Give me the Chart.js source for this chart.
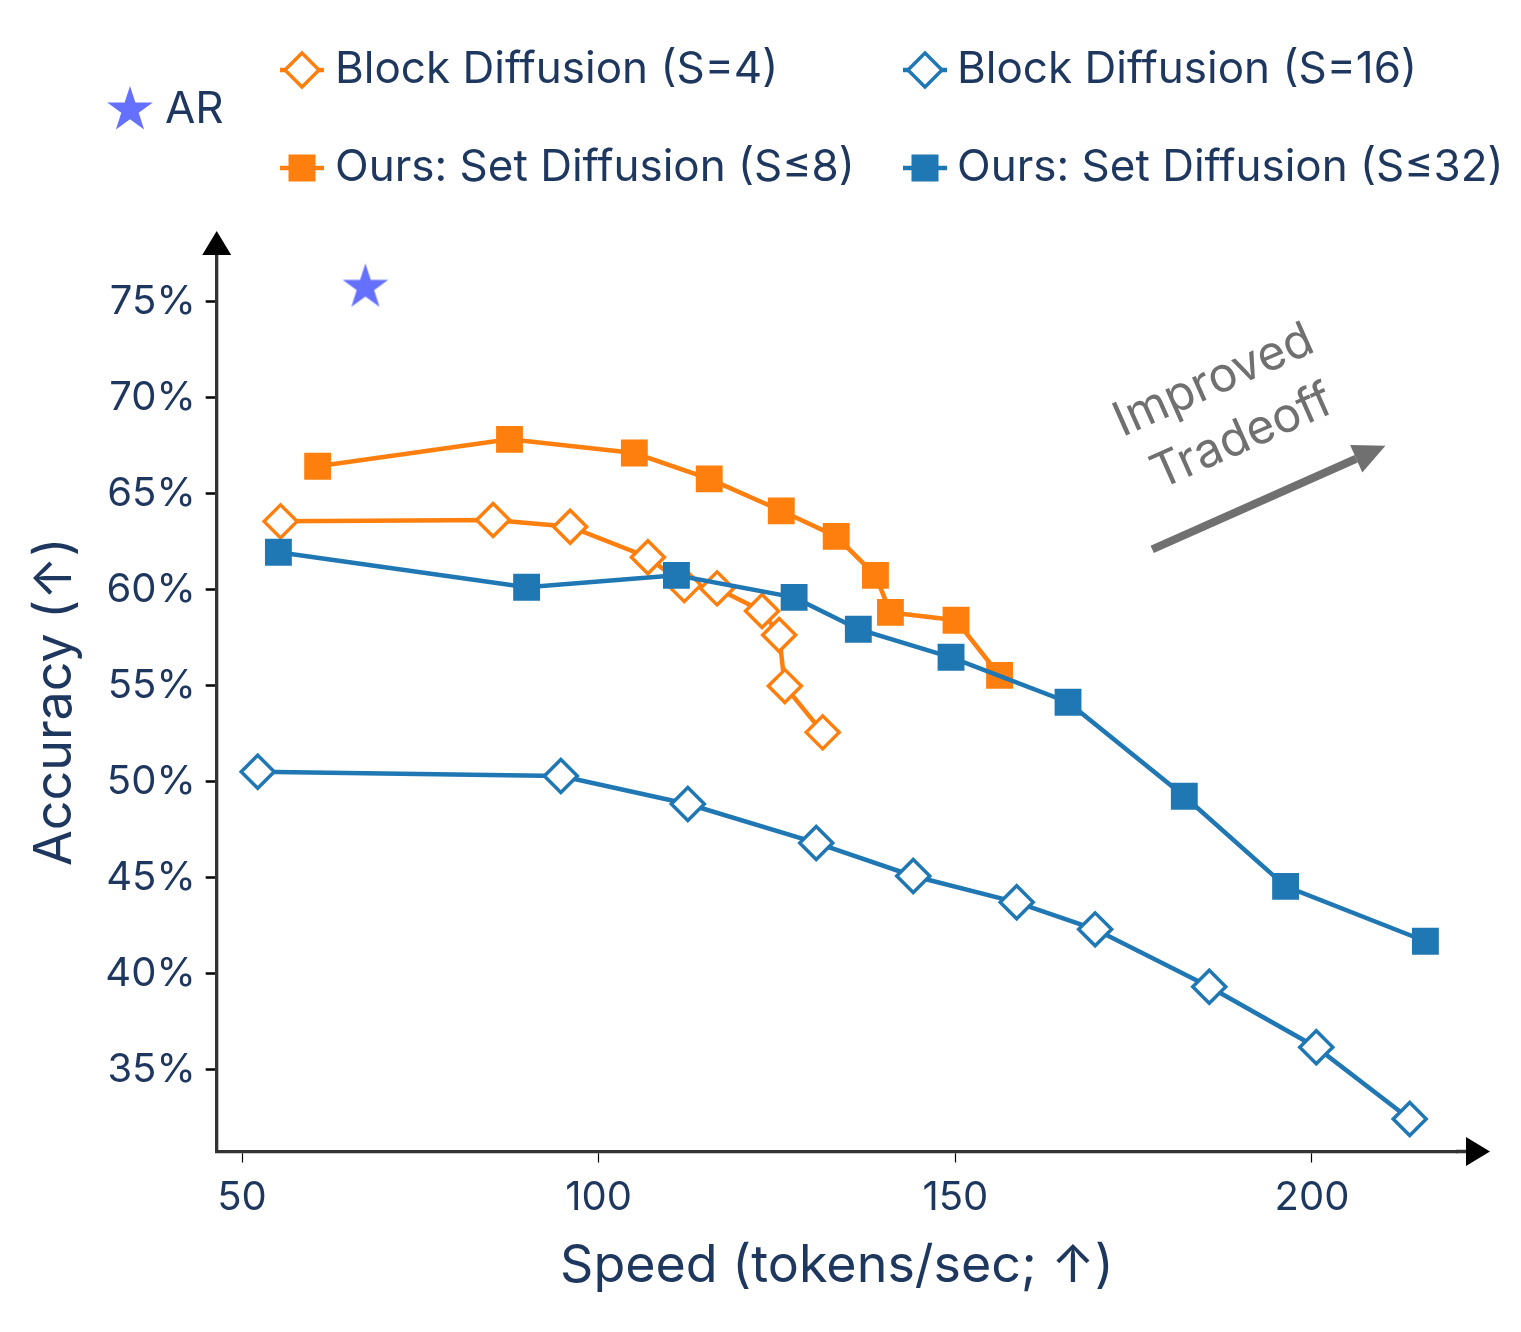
<!DOCTYPE html>
<html>
<head>
<meta charset="utf-8">
<script src="https://cdn.jsdelivr.net/npm/chart.js@4.4.1/dist/chart.umd.min.js"></script>
<style>
  html, body { margin: 0; padding: 0; background: #fff; }
  #wrap { width: 1521px; height: 1332px; }
</style>
</head>
<body>
<div id="wrap"><canvas id="chart" width="1521" height="1332"></canvas></div>
<script>
// values (speed in tokens/sec, accuracy in %)
const blockS4Speed = [55.4, 85.2, 96.0, 106.9, 112.0, 116.6, 122.9, 125.3, 126.1, 131.4];
const blockS4Acc   = [63.56, 63.63, 63.28, 61.69, 60.24, 60.07, 58.89, 57.64, 54.98, 52.57];

const setS8Speed = [60.6, 87.5, 105.0, 115.5, 125.6, 133.3, 138.8, 140.9, 150.1, 156.2];
const setS8Acc   = [66.43, 67.83, 67.12, 65.77, 64.11, 62.78, 60.75, 58.82, 58.41, 55.54];

const blockS16Speed = [52.2, 94.7, 112.5, 130.5, 144.1, 158.6, 169.6, 185.6, 200.6, 213.7];
const blockS16Acc   = [50.52, 50.30, 48.84, 46.81, 45.09, 43.72, 42.31, 39.32, 36.17, 32.43];

const setS32Speed = [55.1, 89.9, 110.9, 127.4, 136.4, 149.4, 165.8, 182.1, 196.3, 215.9];
const setS32Acc   = [61.95, 60.13, 60.75, 59.60, 57.94, 56.48, 54.14, 49.24, 44.55, 41.69];

const arSpeed = [67.3];
const arAcc   = [75.75];

const xTicks = [50, 100, 150, 200];
const yTicks = [35, 40, 45, 50, 55, 60, 65, 70, 75];

// "Improved Tradeoff" arrow, in data units
const tradeoffFrom = [177.6, 62.1];
const tradeoffTo   = [210.3, 67.5];
const tradeoffText = ['Improved', 'Tradeoff'];

const ORANGE = '#ff7f0e';
const BLUE = '#1f77b4';
const AR_COLOR = '#6670ff';
const TEXT = '#1e375f';
const FONT = 'Inter, "Noto Sans", sans-serif';

function pts(xs, ys) {
  return xs.map((x, i) => ({ x: x, y: ys[i] }));
}

function starPath(ctx, cx, cy, R) {
  const r = R * 0.382;
  ctx.beginPath();
  for (let i = 0; i < 10; i++) {
    const rad = i % 2 === 0 ? R : r;
    const a = -Math.PI / 2 + i * Math.PI / 5;
    const px = cx + rad * Math.cos(a);
    const py = cy + rad * Math.sin(a);
    if (i === 0) ctx.moveTo(px, py); else ctx.lineTo(px, py);
  }
  ctx.closePath();
}

function makeStar(R, color) {
  const c = document.createElement('canvas');
  c.width = c.height = Math.ceil(2 * R + 2);
  const g = c.getContext('2d');
  starPath(g, c.width / 2, c.height / 2, R);
  g.fillStyle = color;
  g.fill();
  return c;
}

const starImg = makeStar(24, AR_COLOR);

function diamondSeries(label, data, color) {
  return {
    label: label, data: data, showLine: true,
    borderColor: color, borderWidth: 4.5,
    pointStyle: 'rectRot', pointRadius: 16.5, pointHoverRadius: 16.5,
    pointBackgroundColor: '#fff', pointBorderColor: color, pointBorderWidth: 3.5
  };
}

function squareSeries(label, data, color) {
  return {
    label: label, data: data, showLine: true,
    borderColor: color, borderWidth: 4.5,
    pointStyle: 'rect', pointRadius: 19, pointHoverRadius: 19,
    pointBackgroundColor: color, pointBorderColor: color, pointBorderWidth: 0
  };
}

// legend drawn by hand so it sits like the original
const legendItems = [
  { label: 'AR', mx: 130, my: 110, tx: 165, kind: 'star', color: AR_COLOR },
  { label: 'Block Diffusion (S=4)', mx: 302, my: 70, tx: 335, kind: 'diamond', color: ORANGE },
  { label: 'Ours: Set Diffusion (S\u22648)', mx: 302, my: 168, tx: 335, kind: 'square', color: ORANGE },
  { label: 'Block Diffusion (S=16)', mx: 925, my: 70, tx: 957, kind: 'diamond', color: BLUE },
  { label: 'Ours: Set Diffusion (S\u226432)', mx: 925, my: 168, tx: 957, kind: 'square', color: BLUE }
];

const legendPlugin = {
  id: 'customLegend',
  afterDraw(chart) {
    const ctx = chart.ctx;
    ctx.save();
    legendItems.forEach(it => {
      if (it.kind === 'star') {
        starPath(ctx, it.mx, it.my, 24);
        ctx.fillStyle = it.color;
        ctx.fill();
      } else {
        ctx.strokeStyle = it.color;
        ctx.lineWidth = 4.5;
        ctx.beginPath();
        ctx.moveTo(it.mx - 22, it.my);
        ctx.lineTo(it.mx + 22, it.my);
        ctx.stroke();
        if (it.kind === 'diamond') {
          const r = 17;
          ctx.beginPath();
          ctx.moveTo(it.mx - r, it.my);
          ctx.lineTo(it.mx, it.my - r);
          ctx.lineTo(it.mx + r, it.my);
          ctx.lineTo(it.mx, it.my + r);
          ctx.closePath();
          ctx.fillStyle = '#fff';
          ctx.fill();
          ctx.lineWidth = 3.5;
          ctx.stroke();
        } else {
          ctx.fillStyle = it.color;
          ctx.fillRect(it.mx - 13.5, it.my - 13.5, 27, 27);
        }
      }
      ctx.fillStyle = TEXT;
      ctx.font = '44px ' + FONT;
      ctx.textBaseline = 'middle';
      ctx.textAlign = 'left';
      ctx.fillText(it.label, it.tx, it.my);
    });
    ctx.restore();
  }
};

// axis arrows and the tradeoff annotation
const extrasPlugin = {
  id: 'extras',
  afterDraw(chart) {
    const ctx = chart.ctx;
    const a = chart.chartArea;
    const xs = chart.scales.x, ys = chart.scales.y;
    ctx.save();
    // axis extensions
    ctx.strokeStyle = '#333';
    ctx.lineWidth = 3.3;
    ctx.beginPath();
    ctx.moveTo(a.right - 1, a.bottom);
    ctx.lineTo(1470, a.bottom);
    ctx.moveTo(a.left, a.top + 1);
    ctx.lineTo(a.left, 250);
    ctx.stroke();
    ctx.fillStyle = '#000';
    ctx.beginPath();
    ctx.moveTo(1490, a.bottom);
    ctx.lineTo(1466, a.bottom - 14.5);
    ctx.lineTo(1466, a.bottom + 14.5);
    ctx.closePath();
    ctx.fill();
    ctx.beginPath();
    ctx.moveTo(a.left, 231);
    ctx.lineTo(a.left - 14.5, 255);
    ctx.lineTo(a.left + 14.5, 255);
    ctx.closePath();
    ctx.fill();

    // tradeoff arrow
    const x0 = xs.getPixelForValue(tradeoffFrom[0]), y0 = ys.getPixelForValue(tradeoffFrom[1]);
    const x1 = xs.getPixelForValue(tradeoffTo[0]), y1 = ys.getPixelForValue(tradeoffTo[1]);
    const ang = Math.atan2(y1 - y0, x1 - x0);
    const head = 32, hw = 15;
    const bx = x1 - head * Math.cos(ang), by = y1 - head * Math.sin(ang);
    ctx.strokeStyle = '#707070';
    ctx.fillStyle = '#707070';
    ctx.lineWidth = 8;
    ctx.beginPath();
    ctx.moveTo(x0, y0);
    ctx.lineTo(bx, by);
    ctx.stroke();
    ctx.beginPath();
    ctx.moveTo(x1, y1);
    ctx.lineTo(bx + hw * Math.sin(ang), by - hw * Math.cos(ang));
    ctx.lineTo(bx - hw * Math.sin(ang), by + hw * Math.cos(ang));
    ctx.closePath();
    ctx.fill();

    // rotated label above the arrow
    const mx = (x0 + x1) / 2, my = (y0 + y1) / 2;
    ctx.translate(mx, my);
    ctx.rotate(ang);
    ctx.font = '48px ' + FONT;
    ctx.textAlign = 'center';
    ctx.textBaseline = 'middle';
    ctx.fillText(tradeoffText[0], -3, -129);
    ctx.fillText(tradeoffText[1], 0, -66);
    ctx.restore();
  }
};

Chart.defaults.font.family = FONT;
Chart.defaults.color = TEXT;

new Chart(document.getElementById('chart'), {
  type: 'scatter',
  data: {
    datasets: [
      squareSeries('Ours: Set Diffusion (S\u226432)', pts(setS32Speed, setS32Acc), BLUE),
      diamondSeries('Block Diffusion (S=16)', pts(blockS16Speed, blockS16Acc), BLUE),
      squareSeries('Ours: Set Diffusion (S\u22648)', pts(setS8Speed, setS8Acc), ORANGE),
      diamondSeries('Block Diffusion (S=4)', pts(blockS4Speed, blockS4Acc), ORANGE),
      {
        label: 'AR', data: pts(arSpeed, arAcc),
        pointStyle: starImg, pointRadius: 24, pointHoverRadius: 24
      }
    ]
  },
  options: {
    responsive: false,
    animation: false,
    events: [],
    layout: { padding: { left: 0, top: 252, right: 64, bottom: 0 } },
    plugins: { legend: { display: false }, tooltip: { enabled: false } },
    scales: {
      x: {
        type: 'linear', min: 46.45, max: 220.33,
        afterFit: s => { s.height = 180.5; },
        afterBuildTicks: s => { s.ticks = xTicks.map(v => ({ value: v })); },
        border: { display: true, color: '#333', width: 3.3 },
        grid: { drawOnChartArea: false, drawTicks: true, tickLength: 11, tickColor: '#000', tickWidth: 1.2 },
        ticks: { padding: 11, color: TEXT, font: { size: 40 }, maxRotation: 0 },
        title: { display: true, text: 'Speed (tokens/sec; \u2191)', color: TEXT, font: { size: 52 }, padding: { top: 0, bottom: 34 } }
      },
      y: {
        type: 'linear', min: 30.74, max: 77.59,
        afterFit: s => { s.width = 216.7; },
        afterBuildTicks: s => { s.ticks = yTicks.map(v => ({ value: v })); },
        border: { display: true, color: '#333', width: 3.3 },
        grid: { drawOnChartArea: false, drawTicks: true, tickLength: 11, tickColor: '#000', tickWidth: 2.5 },
        ticks: { padding: 10, color: TEXT, font: { size: 40 }, callback: v => v + '%' },
        title: { display: true, text: 'Accuracy (\u2191)', color: TEXT, font: { size: 52 }, padding: { top: 24, bottom: 0 } }
      }
    }
  },
  plugins: [legendPlugin, extrasPlugin]
});
</script>
</body>
</html>
